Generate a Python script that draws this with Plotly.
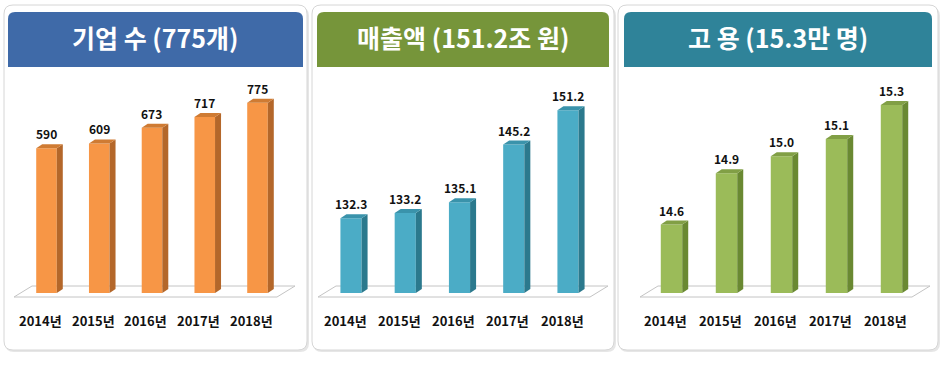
import plotly.graph_objects as go

# ---------------- data ----------------
years = ["2014년", "2015년", "2016년", "2017년", "2018년"]
firms = [590, 609, 673, 717, 775]
sales = [132.3, 133.2, 135.1, 145.2, 151.2]
jobs = [14.6, 14.9, 15.0, 15.1, 15.3]
firm_labels = ["590", "609", "673", "717", "775"]
sales_labels = ["132.3", "133.2", "135.1", "145.2", "151.2"]
job_labels = ["14.6", "14.9", "15.0", "15.1", "15.3"]
titles = ["기업 수 (775개)", "매출액 (151.2조 원)", "고 용 (15.3만 명)"]

W, H = 949, 365
FONT = "Noto Sans CJK KR"


def px(x):
    return x / W


def py(y):
    return 1 - y / H


def rounded_path(x0, y0, x1, y1, r, bottom_round=True):
    X = px
    Y = py
    rb = r if bottom_round else 0
    p = (f"M {X(x0 + r)},{Y(y0)} L {X(x1 - r)},{Y(y0)} "
         f"Q {X(x1)},{Y(y0)} {X(x1)},{Y(y0 + r)} "
         f"L {X(x1)},{Y(y1 - rb)} ")
    if rb:
        p += f"Q {X(x1)},{Y(y1)} {X(x1 - rb)},{Y(y1)} "
    p += f"L {X(x0 + rb)},{Y(y1)} "
    if rb:
        p += f"Q {X(x0)},{Y(y1)} {X(x0)},{Y(y1 - rb)} "
    p += f"L {X(x0)},{Y(y0 + r)} Q {X(x0)},{Y(y0)} {X(x0 + r)},{Y(y0)} Z"
    return p


panels = [
    dict(values=firms, labels=firm_labels, title=titles[0],
         base=0.0, k=0.2455, c0=46.5, s=52.75,
         card=(4, 307), head=(8, 303), floor=(14, 295),
         front="#F79646", side="#B4672A", top="#CF7B33", hcol="#3F6AA8"),
    dict(values=sales, labels=sales_labels, title=titles[1],
         base=119.2, k=5.71, c0=351, s=54.25,
         card=(312, 614), head=(317, 609), floor=(318, 608),
         front="#4BACC6", side="#2B798D", top="#3A93AB", hcol="#76953A"),
    dict(values=jobs, labels=job_labels, title=titles[2],
         base=14.2, k=171.0, c0=671.5, s=55.0,
         card=(618, 938), head=(624, 932), floor=(640, 930),
         front="#9BBB59", side="#6A8932", top="#819F45", hcol="#2F8399"),
]

fig = go.Figure()
shapes = []
annotations = []
layout_axes = {}

Y_TOP, Y_BOT, Y_FLOOR = 70, 310, 293
BAR_W = 0.39
DEPTH_PX, RISE_PX = 6, 4

for n, P in enumerate(panels):
    ax = "" if n == 0 else str(n + 1)
    xa, ya = "x" + ax, "y" + ax
    c0, s, b, k = P["c0"], P["s"], P["base"], P["k"]
    L = c0 - 0.75 * s
    R = c0 + 4.75 * s
    layout_axes["xaxis" + ax] = dict(domain=[px(L), px(R)], range=[-0.75, 4.75],
                                     visible=False, fixedrange=True, anchor=ya)
    lo = b - (Y_BOT - Y_FLOOR) / k
    hi = b + (Y_FLOOR - Y_TOP) / k
    layout_axes["yaxis" + ax] = dict(domain=[py(Y_BOT), py(Y_TOP)], range=[lo, hi],
                                     visible=False, fixedrange=True, anchor=xa)

    # card shadow + card
    cx0, cx1 = P["card"]
    shapes.append(dict(type="path", path=rounded_path(cx0 + 1, 7, cx1 + 2, 352, 9),
                       xref="paper", yref="paper", fillcolor="#E6E6E6",
                       line=dict(width=0), layer="below"))
    shapes.append(dict(type="path", path=rounded_path(cx0, 5, cx1, 350, 9),
                       xref="paper", yref="paper", fillcolor="white",
                       line=dict(color="#D6D6D6", width=1), layer="below"))
    # header
    hx0, hx1 = P["head"]
    shapes.append(dict(type="path", path=rounded_path(hx0, 12, hx1, 67, 7, bottom_round=False),
                       xref="paper", yref="paper", fillcolor=P["hcol"],
                       line=dict(width=0), layer="below"))
    annotations.append(dict(text=f"<b>{P['title']}</b>", xref="paper", yref="paper",
                            x=px((hx0 + hx1) / 2), y=py(37), showarrow=False,
                            xanchor="center", yanchor="middle",
                            font=dict(family=FONT, size=25, color="white")))
    # floor
    f0, f1 = P["floor"]
    floor_path = (f"M {px(f0)},{py(297)} L {px(f0 + 18)},{py(286)} "
                  f"L {px(f1)},{py(286)} L {px(f1 - 18)},{py(297)} Z")
    shapes.append(dict(type="path", path=floor_path, xref="paper", yref="paper",
                       fillcolor="white", line=dict(color="#C4C4C4", width=1),
                       layer="below"))

    xs = list(range(len(years)))
    vals = P["values"]
    # front faces
    fig.add_trace(go.Bar(x=xs, y=[v - b for v in vals], base=b, width=BAR_W,
                         marker=dict(color=P["front"], line=dict(width=0)),
                         xaxis=xa, yaxis=ya, hoverinfo="skip", showlegend=False))
    dx = DEPTH_PX / s
    dy = RISE_PX / k
    for i, v in zip(xs, vals):
        xr = i + BAR_W / 2
        xl = i - BAR_W / 2
        # side face
        fig.add_trace(go.Scatter(x=[xr, xr + dx, xr + dx, xr, xr],
                                 y=[b, b + dy, v + dy, v, b],
                                 fill="toself", fillcolor=P["side"], mode="lines",
                                 line=dict(width=0, color=P["side"]),
                                 xaxis=xa, yaxis=ya, hoverinfo="skip", showlegend=False))
        # top face
        fig.add_trace(go.Scatter(x=[xl, xl + dx, xr + dx, xr, xl],
                                 y=[v, v + dy, v + dy, v, v],
                                 fill="toself", fillcolor=P["top"], mode="lines",
                                 line=dict(width=0, color=P["top"]),
                                 xaxis=xa, yaxis=ya, hoverinfo="skip", showlegend=False))
    # value labels
    for i, v, t in zip(xs, vals, P["labels"]):
        annotations.append(dict(text=f"<b>{t}</b>", x=i, y=v + dy, xref=xa, yref=ya,
                                showarrow=False, xanchor="center", yanchor="bottom",
                                yshift=0, font=dict(family=FONT, size=12, color="#111111")))
    # category labels
    for i, t in zip(xs, years):
        annotations.append(dict(text=f"<b>{t}</b>", x=i - 6 / s, y=py(320),
                                xref=xa, yref="paper", showarrow=False,
                                xanchor="center", yanchor="middle",
                                font=dict(family=FONT, size=13, color="#111111")))

fig.update_layout(width=W, height=H, margin=dict(l=0, r=0, t=0, b=0),
                  paper_bgcolor="white", plot_bgcolor="rgba(0,0,0,0)",
                  shapes=shapes, annotations=annotations, barmode="overlay",
                  **layout_axes)

fig.write_html("out.html", config=dict(displayModeBar=False),
               post_script="document.body.style.margin='0';document.body.style.overflow='hidden';")
